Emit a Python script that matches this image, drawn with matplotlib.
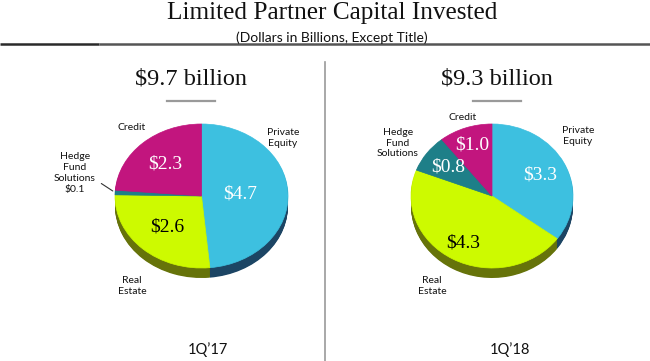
import matplotlib.pyplot as plt
import numpy as np

W, H = 650, 361

# data
categories = ["Private Equity", "Real Estate", "Hedge Fund Solutions", "Credit"]
values_1q17 = [4.7, 2.6, 0.1, 2.3]
values_1q18 = [3.3, 4.3, 0.8, 1.0]
labels_1q17 = ["$4.7", "$2.6", "", "$2.3"]
labels_1q18 = ["$3.3", "$4.3", "$0.8", "$1.0"]
totals = ["$9.7 billion", "$9.3 billion"]
periods = ["1Q\u201917", "1Q\u201918"]

top_colors = ["#3DC0E0", "#CDFA00", "#1E7F88", "#C2157E"]
side_colors = ["#1C4564", "#66730A", "#0F4A50", "#6E0A48"]
text_colors = ["white", "black", "white", "white"]

SERIF = "Liberation Serif"
SANS = "Lato"

fig = plt.figure(figsize=(W / 100, H / 100), dpi=100)


def draw_pie(cx, cy, rx, ry, depth, values, labels, label_r):
    ax = fig.add_axes([(cx - rx) / W, 1 - (cy + ry + depth) / H,
                       2 * rx / W, (2 * ry + depth) / H])
    d = depth / ry
    # side of the disc
    for off in np.linspace(d, 0, 14, endpoint=False):
        ax.pie(values, colors=side_colors, startangle=90, counterclock=False,
               center=(0, -off), wedgeprops=dict(linewidth=0.4, edgecolor="none"))
    wedges, _ = ax.pie(values, colors=top_colors, startangle=90, counterclock=False,
                       wedgeprops=dict(linewidth=0.5))
    for w, c in zip(wedges, top_colors):
        w.set_edgecolor(c)
    for w, t, r, tc in zip(wedges, labels, label_r, text_colors):
        a = np.deg2rad((w.theta1 + w.theta2) / 2)
        ax.text(r * np.cos(a), r * np.sin(a), t, ha="center", va="center",
                fontsize=14, family=SERIF, color=tc)
    ax.set_aspect("auto")
    ax.set_xlim(-1, 1)
    ax.set_ylim(-1 - d, 1)
    ax.axis("off")
    return ax, wedges


ax1, w1 = draw_pie(201.5, 196, 86.5, 72, 10, values_1q17, labels_1q17,
                   [0.45, 0.59, 0.6, 0.61])
ax2, w2 = draw_pie(492, 196, 81, 72, 10, values_1q18, labels_1q18,
                   [0.66, 0.74, 0.67, 0.75])

# overlay in pixel coordinates for titles, rules and category labels
ov = fig.add_axes([0, 0, 1, 1])
ov.set_xlim(0, W)
ov.set_ylim(H, 0)
ov.axis("off")

ov.text(332, 19.5, "Limited Partner Capital Invested", ha="center", va="baseline",
        fontsize=18.2, family=SERIF, color="#111")
ov.text(332, 41.5, "(Dollars in Billions, Except Title)", ha="center", va="baseline",
        fontsize=10, family=SANS, color="#111")
ov.plot([0, 99], [44, 44], color="#2a2a2a", lw=1.8, solid_capstyle="butt")
ov.plot([99, W], [44, 44], color="#555555", lw=1.8, solid_capstyle="butt")
ov.plot([325, 325], [62, H], color="#9a9a9a", lw=1.2)

for cx, total, period, px in zip([191, 497], totals, periods, [208, 510]):
    ov.text(cx, 79, total, ha="center", va="center", fontsize=17.5,
            family=SERIF, color="#111")
    ov.plot([cx - 24, cx + 24], [101, 101], color="#9a9a9a", lw=1.6)
    ov.text(px, 350, period, ha="center", va="center", fontsize=10.5,
            family=SANS, color="#111")

lab = dict(ha="center", va="center", fontsize=7.5, family=SANS, color="#111",
           linespacing=1.25)
# 1Q'17 category labels
ov.text(283, 138, "Private\nEquity", **lab)
ov.text(132, 128, "Credit", **lab)
ov.text(132, 286, "Real\nEstate", **lab)
ov.text(75, 173, "Hedge\nFund\nSolutions\n$0.1", **lab)
hw = w1[2]
a = np.deg2rad((hw.theta1 + hw.theta2) / 2)
ax1.annotate("", xy=(np.cos(a), np.sin(a)), xycoords="data",
             xytext=(99, H - 182), textcoords="figure pixels",
             arrowprops=dict(arrowstyle="-", color="#333", lw=0.8))
# 1Q'18 category labels
ov.text(578, 136, "Private\nEquity", **lab)
ov.text(463, 118, "Credit", **lab)
ov.text(432, 286, "Real\nEstate", **lab)
ov.text(398, 143, "Hedge\nFund\nSolutions", **lab)

fig.savefig("out.png", dpi=100)
